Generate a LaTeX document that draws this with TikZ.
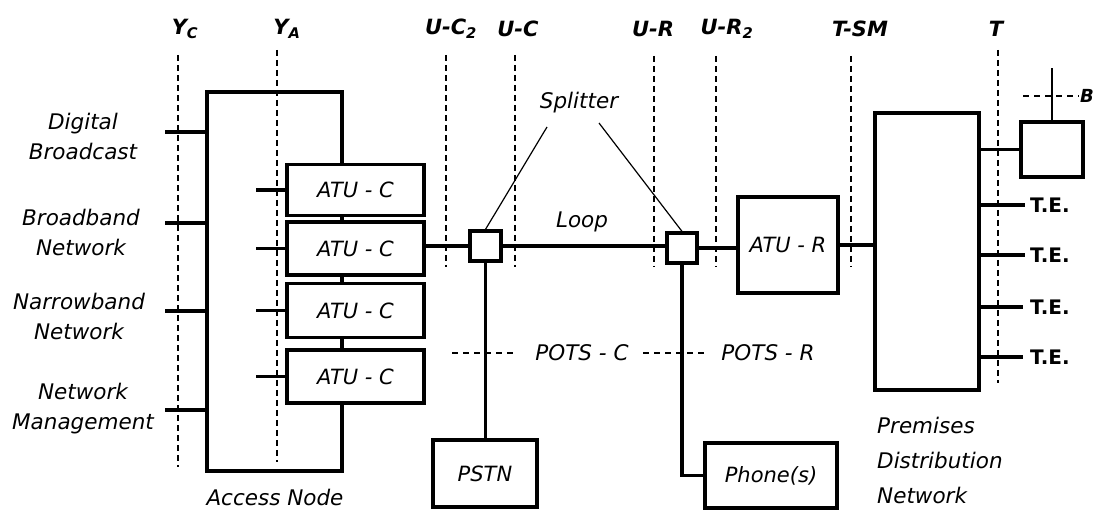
\documentclass[tikz,border=0pt]{standalone}
\usepackage{fontspec}
\setmainfont{DejaVu Sans}[BoldFont={DejaVu Sans Bold},ItalicFont={DejaVu Sans Oblique},BoldItalicFont={DejaVu Sans Bold Oblique}]
\begin{document}
\begin{tikzpicture}[x=1pt,y=-1pt,
  box/.style={draw, line width=3.8pt, inner sep=0pt},
  wbox/.style={box, fill=white},
  conn/.style={line width=3.8pt},
  refline/.style={line width=2pt, dash pattern=on 6pt off 4pt},
  potsline/.style={line width=1.3pt, dash pattern=on 6pt off 5pt},
  pointer/.style={line width=1.2pt},
  lbl/.style={font=\fontsize{21.5}{30}\selectfont\itshape, align=center, inner sep=0pt},
  reflbl/.style={font=\fontsize{21}{24}\selectfont\bfseries\itshape, inner sep=0pt},
  telbl/.style={font=\fontsize{20}{22}\selectfont\bfseries, inner sep=0pt, anchor=west}
]
\useasboundingbox (0,0) rectangle (1096,510);

% reference point labels
\node[reflbl] (lYC) at (185,29) {Y\textsubscript{C}};
\node[reflbl] (lYA) at (287,29) {Y\textsubscript{A}};
\node[reflbl] (lUC2) at (451,29) {U-C\textsubscript{2}};
\node[reflbl] (lUC) at (518,29) {U-C};
\node[reflbl] (lUR) at (653,29) {U-R};
\node[reflbl] (lUR2) at (727,29) {U-R\textsubscript{2}};
\node[reflbl] (lTSM) at (860,29) {T-SM};
\node[reflbl] (lT) at (996,29) {T};

% reference dashed lines
\draw[refline] (178,55) -- (178,467);
\draw[refline] (277,50) -- (277,462);
\draw[refline] (446,55) -- (446,267);
\draw[refline] (515,55) -- (515,267);
\draw[refline] (654,56) -- (654,267);
\draw[refline] (716,56) -- (716,267);
\draw[refline] (851,56) -- (851,267);
\draw[refline] (998,50) -- (998,383);

% access node
\node[box, minimum width=135pt, minimum height=379pt] (AN) at (274.5,281.5) {};
\node[wbox, minimum width=137pt, minimum height=51pt, font=\fontsize{21}{24}\selectfont\itshape] (atu1) at (355.5,190) {ATU - C};
\node[wbox, minimum width=137pt, minimum height=53pt, font=\fontsize{21}{24}\selectfont\itshape] (atu2) at (355.5,248.5) {ATU - C};
\node[wbox, minimum width=137pt, minimum height=54pt, font=\fontsize{21}{24}\selectfont\itshape] (atu3) at (355.5,310.5) {ATU - C};
\node[wbox, minimum width=137pt, minimum height=53pt, font=\fontsize{21}{24}\selectfont\itshape] (atu4) at (355.5,376.5) {ATU - C};

\draw[conn] (atu1.west) -- ++(-29,0);
\draw[conn] (atu2.west) -- ++(-29,0);
\draw[conn] (atu3.west) -- ++(-29,0);
\draw[conn] (atu4.west) -- ++(-29,0);

\draw[conn] (AN.west |- 0,132) -- ++(-40,0);
\draw[conn] (AN.west |- 0,223) -- ++(-40,0);
\draw[conn] (AN.west |- 0,311) -- ++(-40,0);
\draw[conn] (AN.west |- 0,410) -- ++(-40,0);

\node[lbl] (nDB) at (83,136) {Digital\\Broadcast};
\node[lbl] (nBN) at (81,232) {Broadband\\Network};
\node[lbl] (nNN) at (79,316) {Narrowband\\Network};
\node[lbl] (nNM) at (83,409) {Network\\Management};
\node[lbl] (nAN) at (275,497) {Access Node};

% splitters and loop
\node[wbox, line width=3.2pt, minimum width=31pt, minimum height=30pt] (s1) at (485.5,246) {};
\node[wbox, line width=3.2pt, minimum width=30pt, minimum height=30pt] (s2) at (682,248) {};
\node[wbox, minimum width=100pt, minimum height=96pt, font=\fontsize{21}{24}\selectfont\itshape] (atur) at (788,245) {ATU - R};
\node[box, minimum width=104pt, minimum height=277pt] (prem) at (927,251.5) {};
\node[box, minimum width=62pt, minimum height=55pt] (sb) at (1052,149.5) {};
\node[box, minimum width=104pt, minimum height=67pt, font=\fontsize{21}{24}\selectfont\itshape] (pstn) at (485,473.5) {PSTN};
\node[box, minimum width=132pt, minimum height=65pt, font=\fontsize{21}{24}\selectfont\itshape] (phone) at (771,475.5) {Phone(s)};

\draw[conn] (s1.west -| atu2.east) -- (s1.west);
\draw[conn] (s1.east) -- (s1.east -| s2.west);
\draw[conn] (s2.east) -- (s2.east -| atur.west);
\draw[conn] (atur.east) -- (atur.east -| prem.west);
\draw[conn] (s1.south) -- (s1.south |- pstn.north);
\draw[conn] (s2.south) |- (phone.west);

\node[lbl] (nSpl) at (579,103) {Splitter};
\coordinate (sp1) at (547,127);
\coordinate (sp2) at (599,123);
\draw[pointer] (sp1) -- (s1.north);
\draw[pointer] (sp2) -- (s2.north);
\node[lbl] (nLoop) at (582,222) {Loop};

\node[lbl] (nPC) at (582,353) {POTS - C};
\node[lbl] (nPR) at (768,353) {POTS - R};
\draw[potsline] (452,353) -- (515,353);
\draw[potsline] (643,353) -- (708,353);

% premises side
\draw[conn] (sb.west -| prem.east) -- (sb.west);
\coordinate (btop) at (1052,68);
\draw[line width=2pt] (sb.north) -- (btop);
\draw[potsline, line width=1.5pt] (1023,96) -- (1079,96);
\node[reflbl, anchor=west, font=\fontsize{18}{20}\selectfont\bfseries\itshape] (nB) at (1080,96) {B};

\node[telbl] (te1) at (1030,205) {T.E.};
\node[telbl] (te2) at (1030,255) {T.E.};
\node[telbl] (te3) at (1030,307) {T.E.};
\node[telbl] (te4) at (1030,357) {T.E.};
\draw[conn] (te1.west -| prem.east) -- ++(44,0);
\draw[conn] (te2.west -| prem.east) -- ++(44,0);
\draw[conn] (te3.west -| prem.east) -- ++(42,0);
\draw[conn] (te4.west -| prem.east) -- ++(42,0);

\node[lbl, align=left, anchor=west, font=\fontsize{21.5}{35}\selectfont\itshape] (nPDN) at (877,460) {Premises\\Distribution\\Network};
\end{tikzpicture}
\end{document}
